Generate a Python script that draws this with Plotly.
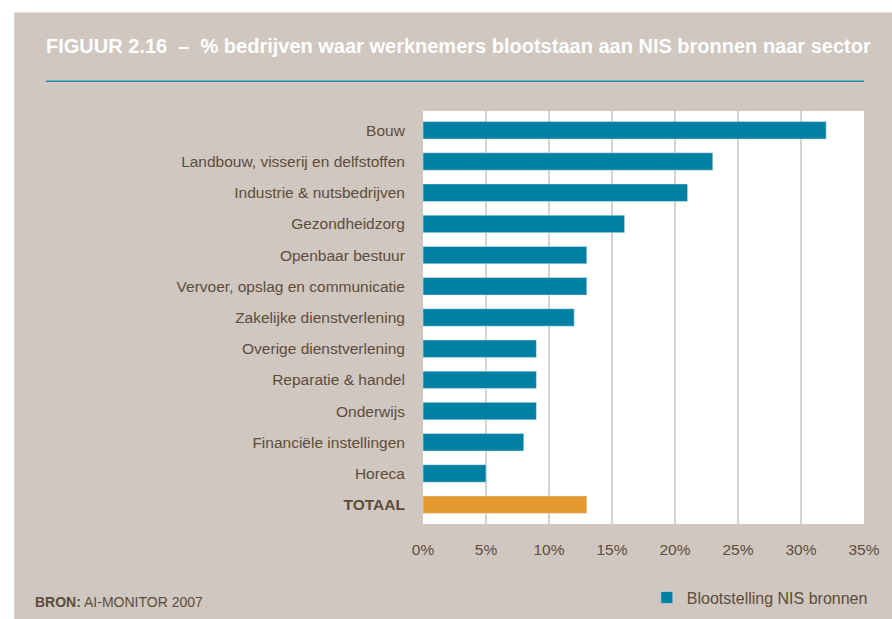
"""
Figuur 2.16 - blootstelling aan NIS bronnen per sector.
"""

import plotly.graph_objects as go

sectoren = [
    "Bouw",
    "Landbouw, visserij en delfstoffen",
    "Industrie & nutsbedrijven",
    "Gezondheidzorg",
    "Openbaar bestuur",
    "Vervoer, opslag en communicatie",
    "Zakelijke dienstverlening",
    "Overige dienstverlening",
    "Reparatie & handel",
    "Onderwijs",
    "Financiële instellingen",
    "Horeca",
]
percentages = [32, 23, 21, 16, 13, 13, 12, 9, 9, 9, 8, 5]

totaal_label = "<b>TOTAAL</b>"
totaal_waarde = 13

x_ticks = [0, 5, 10, 15, 20, 25, 30, 35]

BEIGE = '#d0c7c0'
TEAL = '#0081a3'
ORANJE = '#e2992e'
BRUIN = '#5e4c3a'
FONT = 'Liberation Sans, Arial, sans-serif'

fig = go.Figure()

fig.add_trace(go.Bar(
    y=sectoren,
    x=percentages,
    orientation='h',
    width=0.56,
    marker=dict(color=TEAL),
    name="Blootstelling NIS bronnen",
    hovertemplate="<b>%{y}</b><br>%{x}%<extra></extra>"
))

fig.add_trace(go.Bar(
    y=[totaal_label],
    x=[totaal_waarde],
    orientation='h',
    width=0.56,
    marker=dict(color=ORANJE),
    name="Totaal",
    showlegend=False,
    hovertemplate="<b>TOTAAL</b><br>%{x}%<extra></extra>"
))

# witte rand boven en links
fig.add_shape(type='rect', xref='paper', yref='paper',
              x0=-1.0, x1=1.1, y0=1.2386, y1=1.4,
              fillcolor='white', line=dict(width=0), layer='below')
fig.add_shape(type='rect', xref='paper', yref='paper',
              x0=-1.0, x1=-0.927, y0=-0.4, y1=1.4,
              fillcolor='white', line=dict(width=0), layer='below')

# lijn onder de titel
fig.add_shape(
    type='line', xref='paper', yref='paper',
    x0=-0.855, x1=1.0, y0=1.0723, y1=1.0723,
    line=dict(color='#1a8fb0', width=1.5)
)

fig.add_annotation(
    text="<b>FIGUUR 2.16  –  % bedrijven waar werknemers blootstaan aan NIS bronnen naar sector</b>",
    xref='paper', yref='paper',
    x=-0.86, y=1.157, xanchor='left', yanchor='middle',
    showarrow=False,
    font=dict(family=FONT, size=20, color='white')
)

fig.add_annotation(
    text="<b>BRON:</b> AI-MONITOR 2007",
    xref='paper', yref='paper',
    x=-0.884, y=-0.19, xanchor='left', yanchor='middle',
    showarrow=False,
    font=dict(family=FONT, size=14, color=BRUIN)
)

fig.update_layout(
    width=892,
    height=627,
    paper_bgcolor=BEIGE,
    plot_bgcolor='white',
    margin=dict(l=423, r=20, t=111, b=93),
    barmode='overlay',
    font=dict(family=FONT, size=15.5, color=BRUIN),
    xaxis=dict(
        range=[0, 35],
        tickvals=x_ticks,
        ticktext=[f"{v}%" for v in x_ticks],
        showgrid=True,
        gridcolor='#d9d3cd',
        gridwidth=2,
        zeroline=False,
        showline=False,
        ticks='outside',
        ticklen=11,
        tickcolor='rgba(0,0,0,0)',
        tickfont=dict(size=15.5, color=BRUIN),
        fixedrange=True
    ),
    yaxis=dict(
        categoryorder='array',
        categoryarray=sectoren + [totaal_label],
        range=[12.62, -0.62],
        showgrid=False,
        zeroline=False,
        ticks='outside',
        ticklen=14,
        tickcolor='rgba(0,0,0,0)',
        tickfont=dict(size=15.5, color=BRUIN),
        fixedrange=True
    ),
    legend=dict(
        x=1.02, y=-0.178,
        xanchor='right', yanchor='middle',
        bgcolor='rgba(0,0,0,0)',
        font=dict(size=16, color=BRUIN)
    ),
    showlegend=True
)

pagina = (
    "document.body.style.margin='0';"
    "document.body.style.overflow='hidden';"
    "document.body.style.background='" + BEIGE + "';"
)

fig.write_html("out.html", post_script=pagina, config={'displayModeBar': False})
